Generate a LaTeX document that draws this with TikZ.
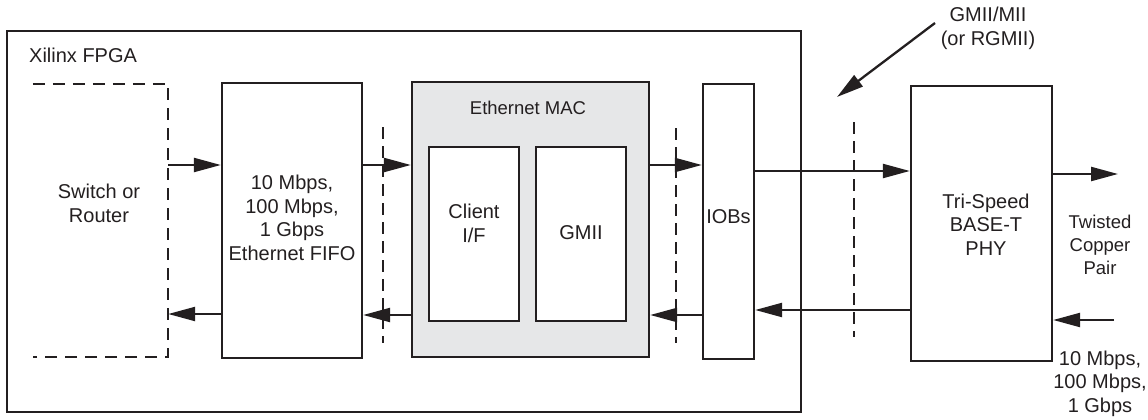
\documentclass[tikz,border=0pt]{standalone}
\usepackage{fontspec}
\setmainfont{Liberation Sans}
\usetikzlibrary{arrows.meta}
\definecolor{macgray}{HTML}{E6E7E8}
\definecolor{ink}{HTML}{231F20}
\begin{document}
\begin{tikzpicture}[x=1pt,y=-1pt,
  box/.style={draw=ink, line width=2.3pt, inner sep=0pt},
  txt/.style={inner sep=0pt, align=center, text=ink, font=\fontsize{20}{23.5}\selectfont},
  txtb/.style={inner sep=0pt, align=center, text=ink, font=\fontsize{18.5}{23}\selectfont},
  arr/.style={draw=ink, line width=2.3pt, -{Triangle[length=27pt,width=14pt]}},
  swdash/.style={draw=ink, line width=2.3pt, dash pattern=on 12pt off 8pt},
  divider/.style={draw=ink, line width=1.1pt, dash pattern=on 12pt off 7pt}]
\useasboundingbox (0,0) rectangle (1148,420);
% FPGA
\node[box, minimum width=794pt, minimum height=381pt] (fpga) at (404,221.5) {};
\node[txt, anchor=west] (fpgalbl) at (29,55) {Xilinx FPGA};
% Switch or router
\node[inner sep=0pt, minimum width=135pt, minimum height=273pt] (sw) at (100.5,220.5) {};
\draw[swdash] (sw.north west) -- (sw.north east) -- (sw.south east) -- (sw.south west);
\node[txt] (swl) at (99,203.5) {Switch or\\Router};
% FIFO
\node[box, minimum width=140pt, minimum height=275pt] (fifo) at (292,220.5) {};
\node[txt] (fifol) at (292,218) {10 Mbps,\\100 Mbps,\\1 Gbps\\Ethernet FIFO};
% MAC
\node[box, fill=macgray, minimum width=237pt, minimum height=275pt] (mac) at (530.5,219.5) {};
\node[txtb] (macl) at (528,108) {Ethernet MAC};
\node[box, fill=white, minimum width=90pt, minimum height=174pt] (cli) at (474,234) {};
\node[txt] (clil) at (474,223.5) {Client\\I/F};
\node[box, fill=white, minimum width=90pt, minimum height=174pt] (gmii) at (581,234) {};
\node[txt] (gmiil) at (581,233) {GMII};
% IOBs
\node[box, minimum width=51pt, minimum height=275pt] (iob) at (728.5,221.5) {};
\node[txt] (iobl) at (728.5,217) {IOBs};
% PHY
\node[box, minimum width=141pt, minimum height=275pt] (phy) at (981.5,223.5) {};
\node[txt] (phyl) at (986,224.5) {Tri-Speed\\BASE-T\\PHY};
% labels
\node[txtb] (tcp) at (1100,245) {Twisted\\Copper\\Pair};
\node[txt] (spd) at (1100,383.5) {10 Mbps,\\100 Mbps,\\1 Gbps};
\node[txt] (gml) at (988,28.5) {GMII/MII\\(or RGMII)};
% dividers
\draw[divider] (383,127) -- (383,343);
\draw[divider] (676,128) -- (676,343);
\draw[divider] (854,122) -- (854,337);
% arrows
\draw[arr] (sw.east |- 0,165) -- (fifo.west |- 0,165);
\draw[arr] (fifo.west |- 0,314) -- (sw.east |- 0,314);
\draw[arr] (fifo.east |- 0,165) -- (mac.west |- 0,165);
\draw[arr] (mac.west |- 0,315) -- (fifo.east |- 0,315);
\draw[arr] (mac.east |- 0,165) -- (iob.west |- 0,165);
\draw[arr] (iob.west |- 0,315) -- (mac.east |- 0,315);
\draw[arr] (iob.east |- 0,171) -- (phy.west |- 0,171);
\draw[arr] (phy.west |- 0,310) -- (iob.east |- 0,310);
\coordinate (tpout) at (1118,174);
\draw[arr] (phy.east |- tpout) -- (tpout);
\coordinate (tpin) at (1114,320);
\draw[arr] (tpin) -- (phy.east |- tpin);
\coordinate (gstart) at (935,23);
\coordinate (gend) at (837,97);
\draw[arr] (gstart) -- (gend);
\end{tikzpicture}
\end{document}
